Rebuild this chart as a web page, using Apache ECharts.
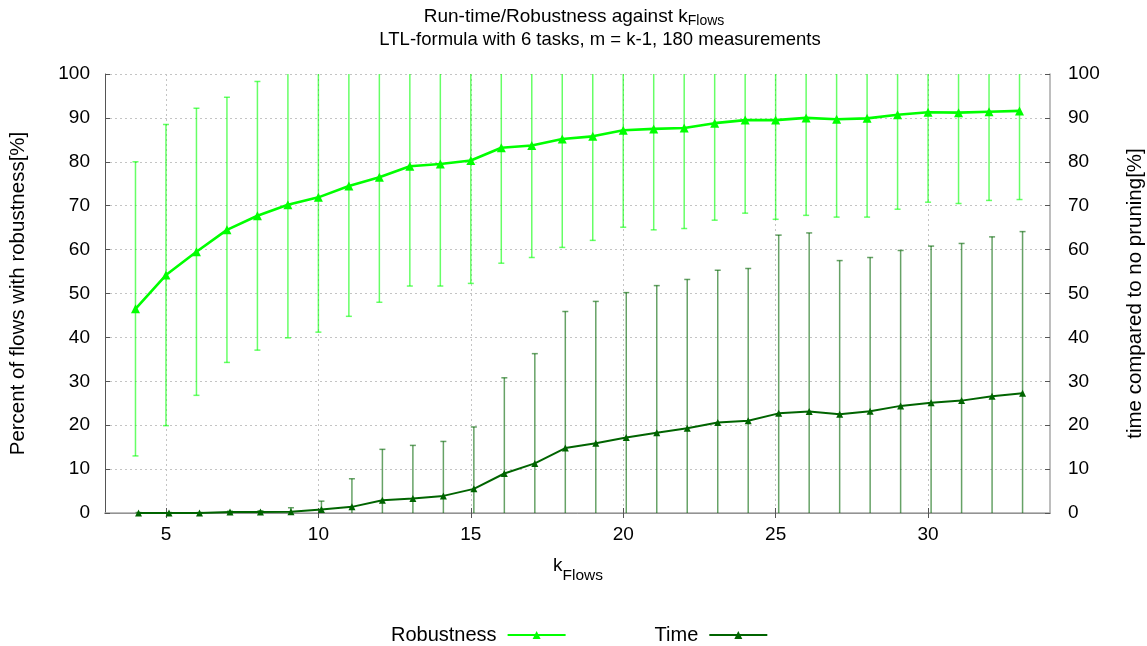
<!DOCTYPE html>
<html>
<head>
<meta charset="utf-8">
<title>Run-time/Robustness against kFlows</title>
<script src="https://cdn.jsdelivr.net/npm/echarts@6/dist/echarts.min.js"></script>
<style>
  html, body { margin: 0; padding: 0; background: #ffffff; }
  #chart { width: 1147px; height: 646px; }
</style>
</head>
<body>
<div id="chart"></div>
<script>
// Number of flows k
const kFlows = [4, 5, 6, 7, 8, 9, 10, 11, 12, 13, 14, 15, 16, 17, 18, 19, 20, 21, 22, 23, 24, 25, 26, 27, 28, 29, 30, 31, 32, 33];

// Percent of flows with robustness: mean and deviation (error bar half-length)
const robustMean = [46.5, 54.2, 59.5, 64.5, 67.7, 70.2, 71.9, 74.5, 76.5, 79.0, 79.5, 80.3, 83.2, 83.7, 85.2, 85.8, 87.2, 87.5, 87.7, 88.8, 89.5, 89.5, 90.0, 89.7, 89.9, 90.7, 91.3, 91.2, 91.4, 91.6];
const robustDev  = [33.5, 34.3, 32.7, 30.2, 30.6, 30.3, 30.7, 29.7, 28.5, 27.3, 27.8, 28.0, 26.3, 25.5, 24.7, 23.7, 22.1, 23.0, 22.9, 22.1, 21.2, 22.6, 22.2, 22.3, 22.5, 21.5, 20.5, 20.7, 20.2, 20.2];

// Run-time compared to no pruning [%]: mean and deviation
const timeMean = [0.0, 0.0, 0.0, 0.2, 0.2, 0.3, 0.8, 1.4, 2.9, 3.3, 3.9, 5.5, 9.0, 11.3, 14.8, 15.9, 17.2, 18.3, 19.3, 20.6, 21.0, 22.7, 23.1, 22.5, 23.2, 24.4, 25.1, 25.6, 26.6, 27.3];
const timeDev  = [0.1, 0.1, 0.1, 0.2, 0.3, 0.9, 1.9, 6.4, 11.6, 12.1, 12.4, 14.1, 21.8, 25.0, 31.1, 32.3, 33.0, 33.5, 33.9, 34.7, 34.7, 40.6, 40.7, 35.0, 35.0, 35.4, 35.7, 35.8, 36.3, 36.8];

// Axis tick values
const xTicks = [5, 10, 15, 20, 25, 30];
const X_MIN = 3, X_MAX = 34;
const Y_MIN = 0, Y_MAX = 100;

// Time points sit a little to the right so their error bars stay apart
const TIME_X_SHIFT = 0.1;

const FONT = '"Liberation Sans", Arial, sans-serif';
const GREEN = '#00ff00';
const DARK_GREEN = '#006400';

const robustLine = kFlows.map((k, i) => [k, robustMean[i]]);
const robustBars = kFlows.map((k, i) => [k, robustMean[i] - robustDev[i], robustMean[i] + robustDev[i]]);
const timeLine = kFlows.map((k, i) => [k + TIME_X_SHIFT, timeMean[i]]);
const timeBars = kFlows.map((k, i) => [k + TIME_X_SHIFT, timeMean[i] - timeDev[i], timeMean[i] + timeDev[i]]);

// Vertical error bar with caps; parts beyond the axis range are cut off
function errorBar(color, opacity) {
  return function (params, api) {
    const x = api.value(0);
    const lo = api.value(1);
    const hi = api.value(2);
    const top = api.coord([x, Math.min(hi, Y_MAX)]);
    const bot = api.coord([x, Math.max(lo, Y_MIN)]);
    const style = { stroke: color, lineWidth: 1.5, opacity: opacity };
    const half = 3;
    const children = [{
      type: 'line',
      shape: { x1: top[0], y1: top[1], x2: bot[0], y2: bot[1] },
      style: style
    }];
    if (hi <= Y_MAX) {
      children.push({ type: 'line', shape: { x1: top[0] - half, y1: top[1], x2: top[0] + half, y2: top[1] }, style: style });
    }
    if (lo >= Y_MIN) {
      children.push({ type: 'line', shape: { x1: bot[0] - half, y1: bot[1], x2: bot[0] + half, y2: bot[1] }, style: style });
    }
    return { type: 'group', children: children };
  };
}

const chart = echarts.init(document.getElementById('chart'), null, { renderer: 'canvas' });

const axisLabelStyle = { fontFamily: FONT, fontSize: 19, color: '#000' };
const axisNameStyle = { fontFamily: FONT, fontSize: 20.5, color: '#000' };
const gridSplit = { show: true, lineStyle: { color: '#c4c4c4', type: [2, 3], width: 1 } };

// Subscript: smaller text pushed down by top padding
const subRich = (size, sub, drop) => ({
  n: { fontFamily: FONT, fontSize: size, color: '#000', verticalAlign: 'top' },
  s: { fontFamily: FONT, fontSize: sub, color: '#000', verticalAlign: 'top', padding: [drop, 0, 0, 0] }
});

chart.setOption({
  backgroundColor: '#ffffff',
  animation: false,
  textStyle: { fontFamily: FONT },
  graphic: [
    {
      type: 'text', x: 574, y: 7,
      style: {
        text: '{n|Run-time/Robustness against k}{s|Flows}',
        align: 'center', verticalAlign: 'top',
        rich: subRich(19, 14, 7)
      }
    },
    {
      type: 'text', x: 600, y: 40,
      style: {
        text: 'LTL-formula with 6 tasks, m = k-1, 180 measurements',
        align: 'center', verticalAlign: 'middle',
        fontFamily: FONT, fontSize: 18.5, fill: '#000'
      }
    },
    {
      type: 'text', x: 578, y: 556,
      style: {
        text: '{n|k}{s|Flows}',
        align: 'center', verticalAlign: 'top',
        rich: subRich(19, 15.5, 12)
      }
    }
  ],
  grid: { left: 105, right: 97, top: 74, bottom: 133, containLabel: false, outerBoundsMode: 'none' },
  legend: {
    data: ['Robustness', 'Time'],
    left: 386,
    top: 620,
    align: 'right',
    itemGap: 88,
    itemWidth: 58,
    itemHeight: 10,
    textStyle: { fontFamily: FONT, fontSize: 20, color: '#000', padding: [0, 6, 0, 0] },
    selectedMode: false
  },
  xAxis: [
    {
      type: 'value', min: X_MIN, max: X_MAX, position: 'bottom',
      axisLine: { show: true, lineStyle: { color: '#555', width: 1 } },
      axisTick: { show: true, inside: true, length: 5, customValues: xTicks, lineStyle: { color: '#555' } },
      axisLabel: { customValues: xTicks, margin: 12, ...axisLabelStyle },
      splitLine: gridSplit
    },
    {
      type: 'value', min: X_MIN, max: X_MAX, position: 'top',
      axisLine: { show: true, lineStyle: { color: '#a8a8a8', width: 1.5 } },
      axisTick: { show: true, inside: true, length: 5, customValues: xTicks, lineStyle: { color: '#555' } },
      axisLabel: { show: false },
      splitLine: { show: false }
    }
  ],
  yAxis: [
    {
      type: 'value', min: Y_MIN, max: Y_MAX, interval: 10, position: 'left',
      name: 'Percent of flows with robustness[%]',
      nameLocation: 'middle', nameRotate: 90, nameGap: 76,
      nameTextStyle: axisNameStyle,
      axisLine: { show: true, lineStyle: { color: '#555', width: 1 } },
      axisTick: { show: true, inside: true, length: 5, lineStyle: { color: '#555' } },
      axisLabel: { margin: 15, ...axisLabelStyle },
      splitLine: gridSplit
    },
    {
      type: 'value', min: Y_MIN, max: Y_MAX, interval: 10, position: 'right',
      name: 'time compared to no pruning[%]',
      nameLocation: 'middle', nameRotate: 90, nameGap: 75,
      nameTextStyle: axisNameStyle,
      axisLine: { show: true, lineStyle: { color: '#a8a8a8', width: 1.5 } },
      axisTick: { show: true, inside: true, length: 5, lineStyle: { color: '#555' } },
      axisLabel: { margin: 18, ...axisLabelStyle },
      splitLine: { show: false }
    }
  ],
  series: [
    {
      type: 'custom', name: 'robustness-deviation',
      xAxisIndex: 0, yAxisIndex: 0,
      renderItem: errorBar(GREEN, 0.6),
      data: robustBars, z: 2, silent: true
    },
    {
      type: 'line', name: 'Robustness',
      xAxisIndex: 0, yAxisIndex: 0,
      data: robustLine,
      symbol: 'triangle', symbolSize: 9, showSymbol: true,
      lineStyle: { color: GREEN, width: 2.6 },
      itemStyle: { color: GREEN },
      z: 3
    },
    {
      type: 'custom', name: 'time-deviation',
      xAxisIndex: 0, yAxisIndex: 1,
      renderItem: errorBar(DARK_GREEN, 0.6),
      data: timeBars, z: 4, silent: true
    },
    {
      type: 'line', name: 'Time',
      xAxisIndex: 0, yAxisIndex: 1,
      data: timeLine,
      symbol: 'triangle', symbolSize: 7, showSymbol: true,
      lineStyle: { color: DARK_GREEN, width: 2 },
      itemStyle: { color: DARK_GREEN },
      z: 5
    }
  ]
});
</script>
</body>
</html>
